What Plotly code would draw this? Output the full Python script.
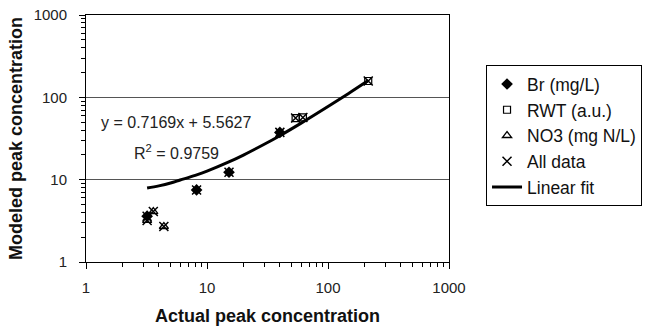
import plotly.graph_objects as go

# Data
br_x = [3.2, 8.2, 15.2, 40.0]
br_y = [3.6, 7.5, 12.3, 37.5]
rwt_x = [54.0, 62.0, 215.0]
rwt_y = [56.0, 57.0, 158.0]
no3_x = [3.2, 3.6, 4.4]
no3_y = [3.2, 4.1, 2.7]
all_x = br_x + rwt_x + no3_x
all_y = br_y + rwt_y + no3_y
fit_x = [3.2, 4, 5, 6, 8, 10, 15, 20, 30, 40, 60, 100, 150, 215]
fit_y = [7.9, 8.4, 9.1, 9.9, 11.3, 12.7, 16.3, 19.9, 27.1, 34.2, 48.6, 77.3, 113, 160]
major_ticks = [1, 10, 100, 1000]
minor_ticks = [d * m for m in (1, 10, 100) for d in range(2, 10)]

FONT = "Liberation Sans, Arial, sans-serif"

fig = go.Figure()
fig.add_trace(go.Scatter(x=br_x, y=br_y, mode="markers", name="Br (mg/L)",
                         legendgroup="a",
                         marker=dict(symbol="diamond", size=9, color="black")))
fig.add_trace(go.Scatter(x=rwt_x, y=rwt_y, mode="markers", name="RWT (a.u.)",
                         legendgroup="b",
                         marker=dict(symbol="square-open", size=7, color="black",
                                     line=dict(width=1.2))))
fig.add_trace(go.Scatter(x=no3_x, y=no3_y, mode="markers", name="NO3 (mg N/L)",
                         legendgroup="c",
                         marker=dict(symbol="triangle-up-open", size=8, color="black",
                                     line=dict(width=1.3))))
fig.add_trace(go.Scatter(x=all_x, y=all_y, mode="markers", name="All data",
                         legendgroup="d",
                         marker=dict(symbol="x-thin-open", size=9, color="black",
                                     line=dict(width=1.5, color="black"))))
fig.add_trace(go.Scatter(x=fit_x, y=fit_y, mode="lines", name="Linear fit",
                         legendgroup="e", line_shape="spline",
                         line=dict(color="black", width=3)))
# invisible trace to anchor the minor-tick overlay axes
fig.add_trace(go.Scatter(x=fit_x, y=fit_y, mode="lines", xaxis="x2", yaxis="y2",
                         opacity=0, showlegend=False, hoverinfo="skip",
                         line=dict(width=0)))

axis_common = dict(
    type="log", showline=True, linecolor="black", linewidth=1, mirror=True,
    tickmode="array", tickvals=major_ticks,
    ticks="outside", ticklen=6, tickcolor="black", tickwidth=1,
    tickfont=dict(family=FONT, size=15, color="#222"),
    zeroline=False, automargin=False,
)

minor_common = dict(
    type="log", range=[0, 3], tickmode="array", tickvals=minor_ticks,
    ticks="outside", ticklen=4, tickcolor="black", tickwidth=1,
    showticklabels=False, showgrid=False, showline=False, zeroline=False,
    automargin=False,
)

fig.update_layout(
    xaxis=dict(range=[0, 3], showgrid=False, ticklabelstandoff=6,
               title=dict(text="<b>Actual peak concentration</b>",
                          font=dict(family=FONT, size=18, color="#111"), standoff=14),
               **axis_common),
    yaxis=dict(range=[0, 3], showgrid=True, gridcolor="#555555", gridwidth=1,
               ticklabelstandoff=9,
               title=dict(text="<b>Modeled peak concentration</b>",
                          font=dict(family=FONT, size=18, color="#111"), standoff=6),
               **axis_common),
    xaxis2=dict(overlaying="x", anchor="y2", side="bottom", **minor_common),
    yaxis2=dict(overlaying="y", anchor="x2", side="left", **minor_common),
)

fig.add_annotation(x=0.249, y=0.563, xref="paper", yref="paper", xanchor="center",
                   text="y = 0.7169x + 5.5627", showarrow=False,
                   font=dict(family=FONT, size=16, color="#222"))
fig.add_annotation(x=0.249, y=0.445, xref="paper", yref="paper", xanchor="center",
                   text="R<sup>2</sup> = 0.9759", showarrow=False,
                   font=dict(family=FONT, size=16, color="#222"))

fig.update_layout(
    width=645, height=335,
    margin=dict(l=86, r=196, t=15, b=73, autoexpand=False),
    paper_bgcolor="white", plot_bgcolor="white",
    showlegend=True,
    legend=dict(x=1.102, y=0.797, xanchor="left", yanchor="top",
                bordercolor="black", borderwidth=1,
                traceorder="grouped", tracegroupgap=0,
                font=dict(family=FONT, size=17.5, color="#111"),
                itemwidth=30),
)

fig.write_html("out.html")
